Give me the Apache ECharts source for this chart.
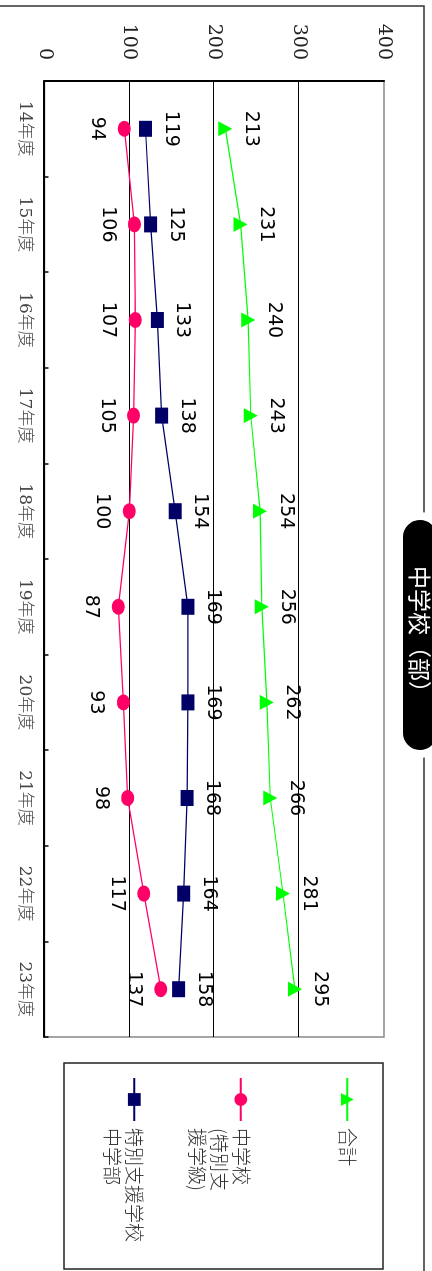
<!DOCTYPE html>
<html><head><meta charset="utf-8">
<script src="https://cdn.jsdelivr.net/npm/echarts@6/dist/echarts.min.js"></script>
<style>
html,body{margin:0;padding:0;width:432px;height:1271px;overflow:hidden;background:#fff}
#chart{position:absolute;left:0;top:0;width:1271px;height:432px;transform-origin:0 0;transform:translateX(432px) rotate(90deg);}
</style></head><body><div id="chart"></div>
<script>
const categories = ['14年度','15年度','16年度','17年度','18年度','19年度','20年度','21年度','22年度','23年度'];
const totalValues = [213,231,240,243,254,256,262,266,281,295];
const juniorHighValues = [94,106,107,105,100,87,93,98,117,137];
const specialSchoolValues = [119,125,133,138,154,169,169,168,164,158];
const seriesNames = ['合計','中学校（特別支援学級）','特別支援学校中学部'];
const legendLabels = ['\n合計\n','\n\n中学校\n(特別支\n援学級)','\n特別支援学校\n中学部'];
const valueMin = 0, valueMax = 400, valueInterval = 100;
const titleText = '中学校（部）';

const chart = echarts.init(document.getElementById('chart'), null, {renderer:'canvas'});
const labelFont = {fontSize:19, fontFamily:'DejaVu Sans', color:'#000'};
chart.setOption({
  animation:false,
  backgroundColor:'#fff',
  title:{
    text:titleText, left:516, top:-9, padding:[10,50,10,50],
    backgroundColor:'#000', borderColor:'#fff', borderWidth:8, borderRadius:21,
    textStyle:{color:'#fff', fontSize:23, lineHeight:22, fontWeight:'normal', fontFamily:'Noto Sans CJK JP'}
  },
  graphic:[
    {type:'rect', z:0, silent:true, shape:{x:6, y:8, width:1400, height:600}, style:{fill:'none', stroke:'#333', lineWidth:1.5}},
    {type:'rect', z:0, silent:true, shape:{x:1063, y:49, width:206, height:319}, style:{fill:'none', stroke:'#222', lineWidth:1.5}}
  ],
  legend:{
    orient:'vertical', left:1077, top:51.7, padding:0, itemGap:18.5, itemWidth:43, itemHeight:16,
    selectedMode:false,
    textStyle:{fontSize:19, lineHeight:22, color:'#333', fontFamily:'Noto Sans CJK JP', fontWeight:300, padding:[0,0,0,2]},
    formatter: function(name){ return legendLabels[seriesNames.indexOf(name)]; },
    data:seriesNames
  },
  grid:{left:81, right:234, top:48, bottom:44.5, show:true, borderColor:'#888', borderWidth:1.5, backgroundColor:'transparent'},
  xAxis:{
    type:'category', data:categories, boundaryGap:true,
    axisLine:{show:true, lineStyle:{color:'#000', width:2}},
    axisTick:{show:true, inside:true, length:4, lineStyle:{color:'#000', width:1.5}},
    axisLabel:{margin:12, fontSize:17, color:'#444', fontFamily:"'DejaVu Serif','Noto Sans CJK JP'", fontWeight:300},
    splitLine:{show:false}
  },
  yAxis:{
    type:'value', min:valueMin, max:valueMax, interval:valueInterval,
    axisLine:{show:true, lineStyle:{color:'#000', width:2}},
    axisTick:{show:false},
    axisLabel:{margin:21, fontSize:19, color:'#222', fontFamily:'DejaVu Serif'},
    splitLine:{show:true, showMinLine:false, showMaxLine:false, lineStyle:{color:'#000', width:1}}
  },
  series:[
    {name:seriesNames[0], type:'line', data:totalValues, symbol:'triangle', symbolSize:[15,14],
     itemStyle:{color:'#00ff00'}, lineStyle:{color:'#00ff00', width:1.2},
     label:Object.assign({show:true, position:'top', distance:9}, labelFont)},
    {name:seriesNames[1], type:'line', data:juniorHighValues, symbol:'circle', symbolSize:[16,13],
     itemStyle:{color:'#ff0066'}, lineStyle:{color:'#ff0066', width:1.3},
     label:Object.assign({show:true, position:'bottom', distance:11}, labelFont)},
    {name:seriesNames[2], type:'line', data:specialSchoolValues, symbol:'rect', symbolSize:[16,13],
     itemStyle:{color:'#000066'}, lineStyle:{color:'#000066', width:1.2},
     label:Object.assign({show:true, position:'top', distance:9}, labelFont)}
  ]
});
</script>
</body></html>
